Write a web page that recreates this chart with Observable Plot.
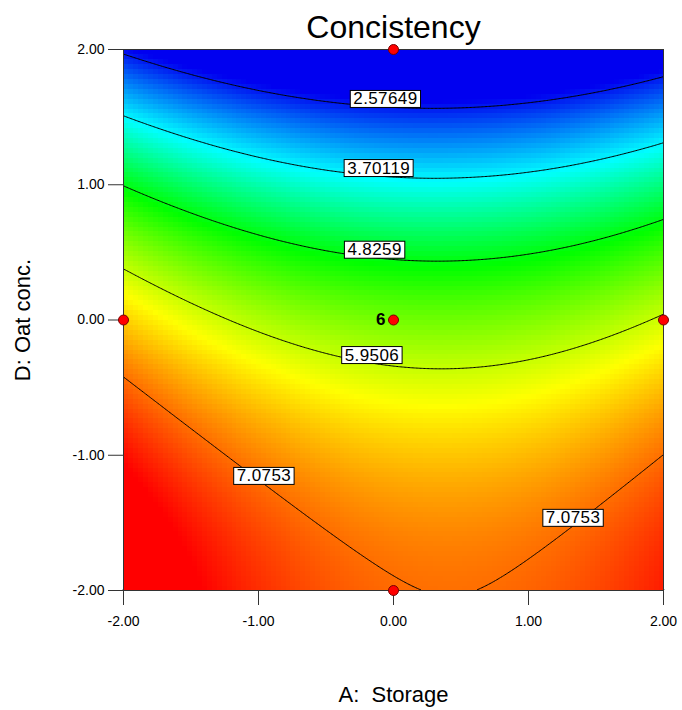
<!DOCTYPE html>
<html>
<head>
<meta charset="utf-8">
<script src="https://cdn.jsdelivr.net/npm/d3@7"></script>
<script src="https://cdn.jsdelivr.net/npm/@observablehq/plot@0.6"></script>
<style>
  body { margin: 0; background: #fff; }
</style>
</head>
<body>
<div id="chart"></div>
<script>
// Fitted quadratic response surface for Concistency (coded factors A: Storage, D: Oat conc.)
const modelTerms = ["Intercept", "A", "D", "AD", "A^2", "D^2"];
const modelCoef = [5.51, -0.13, -1.395, 0.013, 0.19, -0.3];

// Contour levels shown on the plot
const levels = [2.57649, 3.70119, 4.8259, 5.9506, 7.0753];

// Design points (coded) and replicate counts
const designA = [0, -2, 0, 2, 0];
const designD = [2, 0, 0, 0, -2];
const designRuns = [1, 1, 6, 1, 1];

// Axis ticks
const xTicks = [-2, -1, 0, 1, 2];
const yTicks = [-2, -1, 0, 1, 2];

// Colour ramp stops (response value -> colour)
const colorStops = [2.45, 3.75, 4.9, 6.25, 7.7];
const colorRange = ["rgb(0,0,240)", "rgb(0,255,255)", "rgb(0,255,0)", "rgb(255,255,0)", "rgb(255,0,0)"];

// Where along A each contour label sits
const labelLevel = [2.57649, 3.70119, 4.8259, 5.9506, 7.0753, 7.0753];
const labelAnchorA = [-0.06, -0.11, -0.14, -0.16, -0.96, 1.33];

const [b0, bA, bD, bAD, bAA, bDD] = modelCoef;
const consistency = (a, d) => b0 + bA * a + bD * d + bAD * a * d + bAA * a * a + bDD * d * d;

// D on a given contour at a given A (root of the quadratic in D inside [-2, 2])
function contourD(a, level) {
  const qa = bDD, qb = bD + bAD * a, qc = b0 + bA * a + bAA * a * a - level;
  const disc = Math.sqrt(qb * qb - 4 * qa * qc);
  const roots = [(-qb + disc) / (2 * qa), (-qb - disc) / (2 * qa)];
  return roots.find(r => r >= -2 && r <= 2);
}

const labels = labelLevel.map((level, i) => ({
  A: labelAnchorA[i],
  D: contourD(labelAnchorA[i], level),
  text: String(level)
}));

const points = designA.map((a, i) => ({A: a, D: designD[i], n: designRuns[i]}));
const fmt = v => v.toFixed(2);

const chart = Plot.plot({
  width: 682,
  height: 710,
  marginLeft: 123,
  marginRight: 19,
  marginTop: 49,
  marginBottom: 120,
  style: {fontFamily: "Arial, 'Liberation Sans', sans-serif", background: "#fff", color: "#000"},
  x: {domain: [-2, 2]},
  y: {domain: [-2, 2]},
  color: {type: "linear", domain: colorStops, range: colorRange, clamp: true, interpolate: "rgb"},
  marks: [
    Plot.raster({
      fill: (a, d) => consistency(a, d),
      x1: -2, x2: 2, y1: -2, y2: 2,
      width: 110, height: 110,
      imageRendering: "pixelated"
    }),
    Plot.contour({
      value: (a, d) => consistency(a, d),
      x1: -2, x2: 2, y1: -2, y2: 2,
      width: 400, height: 400,
      thresholds: levels,
      fill: "none",
      stroke: "#000",
      strokeWidth: 1
    }),
    Plot.frame({stroke: "#333"}),
    Plot.axisX({ticks: xTicks, tickFormat: fmt, tickSize: 15, tickPadding: 11, fontSize: 14, label: null, stroke: "#333"}),
    Plot.axisY({ticks: yTicks, tickFormat: fmt, tickSize: 15, tickPadding: 4, fontSize: 14, label: null, stroke: "#333"}),
    Plot.text(labels, {
      x: "A", y: "D", text: "text",
      dy: -8, fontSize: 17, fill: "#000"
    }),
    Plot.dot(points, {x: "A", y: "D", r: 5, fill: "#ff0000", stroke: "#700", strokeWidth: 1}),
    Plot.text(points.filter(p => p.n > 1), {
      x: "A", y: "D", text: "n",
      textAnchor: "end", dx: -8, fontSize: 17, fontWeight: "bold", fill: "#000"
    }),
    Plot.text(["Concistency"], {frameAnchor: "top", lineAnchor: "bottom", dy: -12, fontSize: 32, fill: "#000"}),
    Plot.text(["A:  Storage"], {frameAnchor: "bottom", lineAnchor: "bottom", dy: 111, fontSize: 22, fill: "#000"}),
    Plot.text(["D: Oat conc."], {frameAnchor: "left", textAnchor: "middle", lineAnchor: "middle", rotate: -90, dx: -101, fontSize: 22, fill: "#000"})
  ]
});

document.getElementById("chart").append(chart);

// White boxes behind the contour labels
const labelTexts = new Set(labels.map(d => d.text));
Array.from(chart.querySelectorAll("text"))
  .filter(t => labelTexts.has(t.textContent))
  .forEach(t => {
    t.setAttribute("letter-spacing", "0.4");
    const b = t.getBBox();
    const r = document.createElementNS("http://www.w3.org/2000/svg", "rect");
    const h = 17;
    r.setAttribute("x", b.x - 3);
    r.setAttribute("y", b.y + b.height / 2 - h / 2);
    r.setAttribute("width", b.width + 6);
    r.setAttribute("height", h);
    r.setAttribute("fill", "#fff");
    r.setAttribute("stroke", "#000");
    r.setAttribute("stroke-width", 1);
    if (t.getAttribute("transform")) r.setAttribute("transform", t.getAttribute("transform"));
    t.parentNode.insertBefore(r, t);
  });
</script>
</body>
</html>
